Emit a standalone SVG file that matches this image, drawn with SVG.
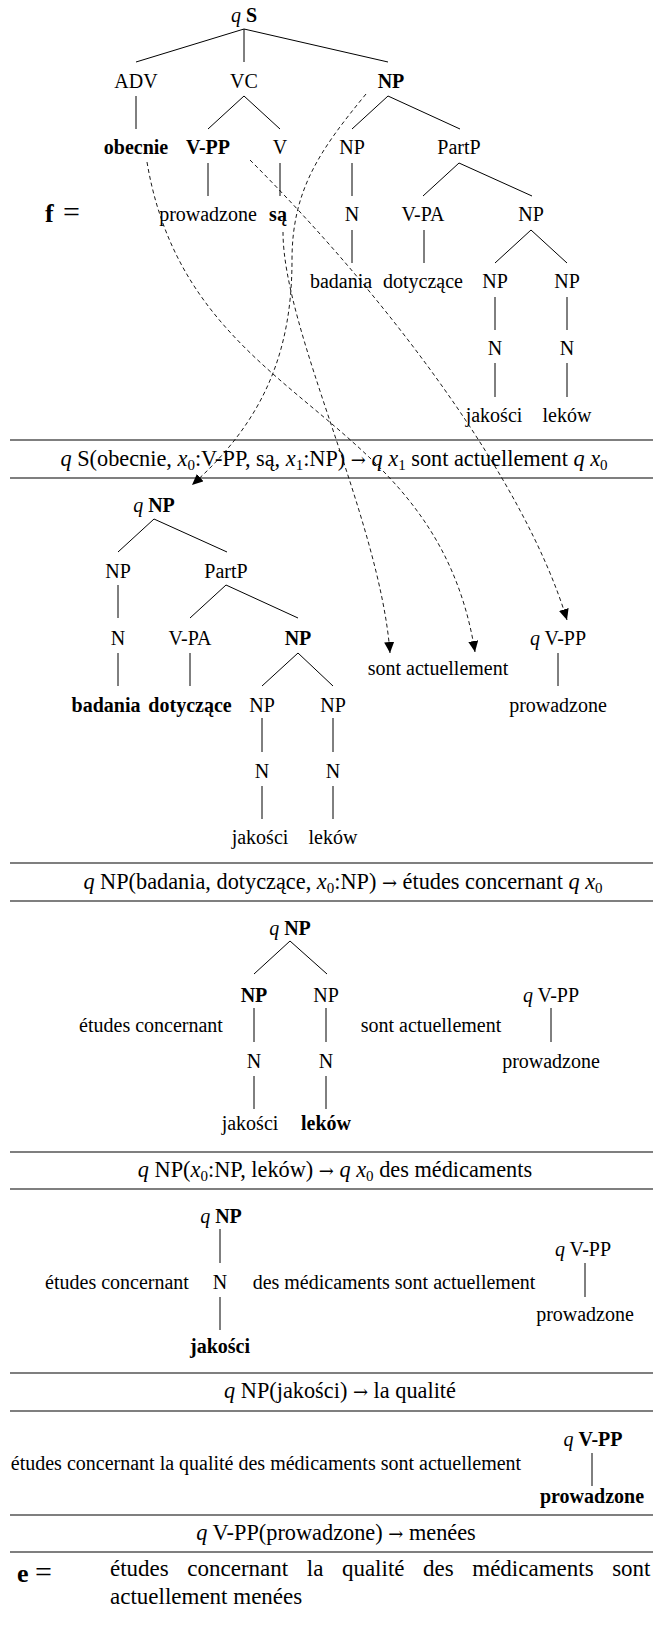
<svg xmlns="http://www.w3.org/2000/svg" width="653" height="1628" viewBox="0 0 653 1628">
<style>
  .t { font-family: "Liberation Serif", "Times New Roman", serif; font-size: 20px; fill: #000; text-anchor: middle; }
  .l { text-anchor: start; }
  .b { font-weight: bold; }
  .m { font-style: italic; }
  .r { font-size: 22.3px; }
  .sub { font-size: 15px; }
  .ar { font-family: "DejaVu Serif", serif; font-size: 18px; }
  .big { font-size: 26px; }
  .eq { font-size: 30px; }
  .fin { font-size: 23px; }
  .edge { stroke: #000; stroke-width: 1; fill: none; }
  .sep { stroke: #000; stroke-width: 1.2; }
  .link { stroke: #000; stroke-width: 0.9; stroke-dasharray: 4 3; fill: none; marker-end: url(#tip); }
</style>
<defs>
  <marker id="tip" markerUnits="userSpaceOnUse" markerWidth="11" markerHeight="10" refX="11" refY="5" orient="auto">
    <path d="M0,0 L11,5 L0,10 z" fill="#000"/>
  </marker>
</defs>
<rect width="653" height="1628" fill="#fff"/>

<!-- horizontal rules framing each transducer step -->
<g id="rules">
  <line class="sep" x1="10" y1="440" x2="653" y2="440"/>
  <line class="sep" x1="10" y1="478" x2="653" y2="478"/>
  <line class="sep" x1="10" y1="863" x2="653" y2="863"/>
  <line class="sep" x1="10" y1="901" x2="653" y2="901"/>
  <line class="sep" x1="10" y1="1152" x2="653" y2="1152"/>
  <line class="sep" x1="10" y1="1189" x2="653" y2="1189"/>
  <line class="sep" x1="10" y1="1373" x2="653" y2="1373"/>
  <line class="sep" x1="10" y1="1411" x2="653" y2="1411"/>
  <line class="sep" x1="10" y1="1515" x2="653" y2="1515"/>
  <line class="sep" x1="10" y1="1552" x2="653" y2="1552"/>
</g>

<!-- tree edges -->
<g id="edges" class="edge">
  <!-- source tree f -->
  <line x1="244" y1="29" x2="136" y2="62"/>
  <line x1="244" y1="29" x2="244" y2="62"/>
  <line x1="244" y1="29" x2="388" y2="62"/>
  <line x1="136" y1="96" x2="136" y2="129"/>
  <line x1="244" y1="96" x2="208" y2="129"/>
  <line x1="244" y1="96" x2="280" y2="129"/>
  <line x1="388" y1="96" x2="352" y2="129"/>
  <line x1="388" y1="96" x2="460" y2="129"/>
  <line x1="208" y1="163" x2="208" y2="196"/>
  <line x1="280" y1="163" x2="280" y2="196"/>
  <line x1="352" y1="163" x2="352" y2="196"/>
  <line x1="459" y1="163" x2="423" y2="196"/>
  <line x1="459" y1="163" x2="532" y2="196"/>
  <line x1="352" y1="230" x2="352" y2="263"/>
  <line x1="424" y1="230" x2="424" y2="263"/>
  <line x1="531" y1="230" x2="495" y2="263"/>
  <line x1="531" y1="230" x2="567" y2="263"/>
  <line x1="495" y1="297" x2="495" y2="330"/>
  <line x1="567" y1="297" x2="567" y2="330"/>
  <line x1="495" y1="363" x2="495" y2="397"/>
  <line x1="567" y1="363" x2="567" y2="397"/>
  <!-- step 1 -->
  <line x1="154" y1="519" x2="118" y2="552"/>
  <line x1="154" y1="519" x2="227" y2="552"/>
  <line x1="118" y1="585" x2="118" y2="618"/>
  <line x1="226" y1="585" x2="190" y2="618"/>
  <line x1="226" y1="585" x2="298" y2="618"/>
  <line x1="118" y1="653" x2="118" y2="686"/>
  <line x1="190" y1="653" x2="190" y2="686"/>
  <line x1="298" y1="653" x2="262" y2="686"/>
  <line x1="298" y1="653" x2="333" y2="686"/>
  <line x1="262" y1="718" x2="262" y2="752"/>
  <line x1="333" y1="718" x2="333" y2="752"/>
  <line x1="262" y1="786" x2="262" y2="819"/>
  <line x1="333" y1="786" x2="333" y2="819"/>
  <line x1="558" y1="653" x2="558" y2="686"/>
  <!-- step 2 -->
  <line x1="290" y1="941" x2="254" y2="974"/>
  <line x1="290" y1="941" x2="327" y2="974"/>
  <line x1="254" y1="1008" x2="254" y2="1042"/>
  <line x1="326" y1="1008" x2="326" y2="1042"/>
  <line x1="254" y1="1076" x2="254" y2="1109"/>
  <line x1="326" y1="1076" x2="326" y2="1109"/>
  <line x1="551" y1="1008" x2="551" y2="1042"/>
  <!-- step 3 -->
  <line x1="220" y1="1229" x2="220" y2="1263"/>
  <line x1="220" y1="1297" x2="220" y2="1330"/>
  <line x1="585" y1="1263" x2="585" y2="1297"/>
  <!-- step 4 -->
  <line x1="592" y1="1453" x2="592" y2="1486"/>
</g>

<!-- dashed alignment links from the source tree to the first step -->
<g id="links">
  <path class="link" d="M366,94 C320,150 292,190 292,260 C292,350 265,420 192,485"/>
  <path class="link" d="M147,162 C189,412 435,402 475,652"/>
  <path class="link" d="M283,232 C283,330 380,520 390,653"/>
  <path class="link" d="M250,160 C389,299 525,481 567,620"/>
</g>

<!-- source tree f -->
<g id="f-label"><text class="t l" x="45" y="222"><tspan class="b big">f</tspan><tspan class="eq" x="63">=</tspan></text></g>
<g id="f-S"><text class="t" x="244" y="22"><tspan class="m">q</tspan> <tspan class="b">S</tspan></text></g>
<g id="f-ADV"><text class="t" x="136" y="88">ADV</text></g>
<g id="f-VC"><text class="t" x="244" y="88">VC</text></g>
<g id="f-NP"><text class="t b" x="391" y="88">NP</text></g>
<g id="f-obecnie"><text class="t b" x="136" y="154">obecnie</text></g>
<g id="f-VPP"><text class="t b" x="208" y="154">V-PP</text></g>
<g id="f-V"><text class="t" x="280" y="154">V</text></g>
<g id="f-NP1"><text class="t" x="352" y="154">NP</text></g>
<g id="f-PartP"><text class="t" x="459" y="154">PartP</text></g>
<g id="f-prowadzone"><text class="t" x="208" y="221">prowadzone</text></g>
<g id="f-sa"><text class="t b" x="278" y="221">są</text></g>
<g id="f-N1"><text class="t" x="352" y="221">N</text></g>
<g id="f-VPA"><text class="t" x="423" y="221">V-PA</text></g>
<g id="f-NP2"><text class="t" x="531" y="221">NP</text></g>
<g id="f-badania"><text class="t" x="341" y="288">badania</text></g>
<g id="f-dotyczace"><text class="t" x="423" y="288">dotyczące</text></g>
<g id="f-NP3"><text class="t" x="495" y="288">NP</text></g>
<g id="f-NP4"><text class="t" x="567" y="288">NP</text></g>
<g id="f-N2"><text class="t" x="495" y="355">N</text></g>
<g id="f-N3"><text class="t" x="567" y="355">N</text></g>
<g id="f-jakosci"><text class="t" x="494" y="422">jakości</text></g>
<g id="f-lekow"><text class="t" x="567" y="422">leków</text></g>

<!-- rule 1 -->
<g id="rule1"><text class="t r" x="334" y="466"><tspan class="m">q</tspan> S(obecnie, <tspan class="m">x</tspan><tspan class="sub" dy="4">0</tspan><tspan dy="-4">:V-PP, są, </tspan><tspan class="m">x</tspan><tspan class="sub" dy="4">1</tspan><tspan dy="-4">:NP) </tspan><tspan class="ar">→</tspan> <tspan class="m">q x</tspan><tspan class="sub" dy="4">1</tspan><tspan dy="-4"> sont actuellement </tspan><tspan class="m">q x</tspan><tspan class="sub" dy="4">0</tspan></text></g>

<!-- step 1 -->
<g id="s1-NP"><text class="t" x="154" y="512"><tspan class="m">q</tspan> <tspan class="b">NP</tspan></text></g>
<g id="s1-NP1"><text class="t" x="118" y="578">NP</text></g>
<g id="s1-PartP"><text class="t" x="226" y="578">PartP</text></g>
<g id="s1-N1"><text class="t" x="118" y="645">N</text></g>
<g id="s1-VPA"><text class="t" x="190" y="645">V-PA</text></g>
<g id="s1-NP2"><text class="t b" x="298" y="645">NP</text></g>
<g id="s1-badania"><text class="t b" x="106" y="712">badania</text></g>
<g id="s1-dotyczace"><text class="t b" x="190" y="712">dotyczące</text></g>
<g id="s1-NP3"><text class="t" x="262" y="712">NP</text></g>
<g id="s1-NP4"><text class="t" x="333" y="712">NP</text></g>
<g id="s1-N2"><text class="t" x="262" y="778">N</text></g>
<g id="s1-N3"><text class="t" x="333" y="778">N</text></g>
<g id="s1-jakosci"><text class="t" x="260" y="844">jakości</text></g>
<g id="s1-lekow"><text class="t" x="333" y="844">leków</text></g>
<g id="s1-sont"><text class="t" x="438" y="675">sont actuellement</text></g>
<g id="s1-VPP"><text class="t" x="558" y="645"><tspan class="m">q</tspan> V-PP</text></g>
<g id="s1-prowadzone"><text class="t" x="558" y="712">prowadzone</text></g>

<!-- rule 2 -->
<g id="rule2"><text class="t r" x="343" y="889"><tspan class="m">q</tspan> NP(badania, dotyczące, <tspan class="m">x</tspan><tspan class="sub" dy="4">0</tspan><tspan dy="-4">:NP) </tspan><tspan class="ar">→</tspan> études concernant <tspan class="m">q x</tspan><tspan class="sub" dy="4">0</tspan></text></g>

<!-- step 2 -->
<g id="s2-NP"><text class="t" x="290" y="935"><tspan class="m">q</tspan> <tspan class="b">NP</tspan></text></g>
<g id="s2-NP1"><text class="t b" x="254" y="1002">NP</text></g>
<g id="s2-NP2"><text class="t" x="326" y="1002">NP</text></g>
<g id="s2-etudes"><text class="t" x="151" y="1032">études concernant</text></g>
<g id="s2-sont"><text class="t" x="431" y="1032">sont actuellement</text></g>
<g id="s2-N1"><text class="t" x="254" y="1068">N</text></g>
<g id="s2-N2"><text class="t" x="326" y="1068">N</text></g>
<g id="s2-jakosci"><text class="t" x="250" y="1130">jakości</text></g>
<g id="s2-lekow"><text class="t b" x="326" y="1130">leków</text></g>
<g id="s2-VPP"><text class="t" x="551" y="1002"><tspan class="m">q</tspan> V-PP</text></g>
<g id="s2-prowadzone"><text class="t" x="551" y="1068">prowadzone</text></g>

<!-- rule 3 -->
<g id="rule3"><text class="t r" x="335" y="1177"><tspan class="m">q</tspan> NP(<tspan class="m">x</tspan><tspan class="sub" dy="4">0</tspan><tspan dy="-4">:NP, leków) </tspan><tspan class="ar">→</tspan> <tspan class="m">q x</tspan><tspan class="sub" dy="4">0</tspan><tspan dy="-4"> des médicaments</tspan></text></g>

<!-- step 3 -->
<g id="s3-NP"><text class="t" x="221" y="1223"><tspan class="m">q</tspan> <tspan class="b">NP</tspan></text></g>
<g id="s3-etudes"><text class="t" x="117" y="1289">études concernant</text></g>
<g id="s3-N"><text class="t" x="220" y="1289">N</text></g>
<g id="s3-des"><text class="t" x="394" y="1289">des médicaments sont actuellement</text></g>
<g id="s3-jakosci"><text class="t b" x="220" y="1353">jakości</text></g>
<g id="s3-VPP"><text class="t" x="583" y="1256"><tspan class="m">q</tspan> V-PP</text></g>
<g id="s3-prowadzone"><text class="t" x="585" y="1321">prowadzone</text></g>

<!-- rule 4 -->
<g id="rule4"><text class="t r" x="340" y="1398"><tspan class="m">q</tspan> NP(jakości) <tspan class="ar">→</tspan> la qualité</text></g>

<!-- step 4 -->
<g id="s4-etudes"><text class="t" x="266" y="1470" font-size="17.4">études concernant la qualité des médicaments sont actuellement</text></g>
<g id="s4-VPP"><text class="t" x="593" y="1446"><tspan class="m">q</tspan> <tspan class="b">V-PP</tspan></text></g>
<g id="s4-prowadzone"><text class="t b" x="592" y="1503">prowadzone</text></g>

<!-- rule 5 -->
<g id="rule5"><text class="t r" x="336" y="1540"><tspan class="m">q</tspan> V-PP(prowadzone) <tspan class="ar">→</tspan> menées</text></g>

<!-- target string e -->
<g id="e-label"><text class="t l" x="17" y="1582"><tspan class="b big">e</tspan><tspan class="eq" x="35">=</tspan></text></g>
<g id="e-text">
  <text class="t l fin" x="110" y="1576" word-spacing="12.8">études concernant la qualité des médicaments sont</text>
  <text class="t l fin" x="110" y="1604">actuellement menées</text>
</g>
</svg>
